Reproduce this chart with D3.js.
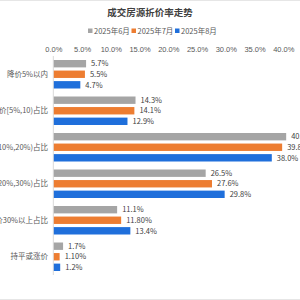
<!DOCTYPE html>
<html><head><meta charset="utf-8">
<script src="https://cdn.jsdelivr.net/npm/d3@7"></script>
<style>body{margin:0;background:#fff;}svg{display:block;font-family:"Noto Sans CJK SC","Noto Sans",sans-serif;}</style>
</head><body>
<svg id="c" width="300" height="300"></svg>
<script>
const categories = ["降价5%以内","降价[5%,10)占比","降价[10%,20%)占比","降价[20%,30%)占比","降价30%以上占比","持平或涨价"];
const seriesNames = ["2025年6月","2025年7月","2025年8月"];
const jun = [5.7,14.3,40.5,26.5,11.1,1.7];
const jul = [5.5,14.1,39.8,27.6,11.8,1.1];
const aug = [4.7,12.9,38.0,29.8,13.4,1.2];
const junLabels = ["5.7%","14.3%","40.5%","26.5%","11.1%","1.7%"];
const julLabels = ["5.5%","14.1%","39.8%","27.6%","11.80%","1.10%"];
const augLabels = ["4.7%","12.9%","38.0%","29.8%","13.4%","1.2%"];
const tickValues = [0,5,10,15,20,25,30,35,40];
const colors = ["#A5A5A5","#ED7D31","#1F6FDB"];

const svg = d3.select("#c");
svg.append("rect").attr("x",0).attr("y",0).attr("width",300).attr("height",300).attr("fill","#fff");
svg.append("line").attr("x1",0).attr("x2",300).attr("y1",0.5).attr("y2",0.5).attr("stroke","#e6e6e6");
svg.append("line").attr("x1",0).attr("x2",300).attr("y1",299.5).attr("y2",299.5).attr("stroke","#e6e6e6");

const x = d3.scaleLinear().domain([0,40]).range([53.3,283.3]);
const y = d3.scaleBand().domain(categories).range([56,275]).paddingInner(0).paddingOuter(0);
const sub = d3.scaleBand().domain([0,1,2]).range([0,28.5]).paddingInner(0.3).paddingOuter(0);

svg.append("text").attr("x",150).attr("y",16).attr("text-anchor","middle")
  .attr("font-size",9.5).attr("font-weight","bold").attr("fill","#404040").text("成交房源折价率走势");

// legend
const legend = svg.append("g");
const legX = [88,131.5,175];
seriesNames.forEach((n,i)=>{
  legend.append("rect").attr("x",legX[i]).attr("y",28.5).attr("width",4.5).attr("height",4.5).attr("fill",colors[i]);
  legend.append("text").attr("x",legX[i]+6).attr("y",33.5).attr("font-size",7.5).attr("fill","#595959").text(n);
});

// top axis tick labels
const ax = d3.axisTop(x).tickValues(tickValues).tickFormat(d=>d.toFixed(1)+"%").tickSize(0).tickPadding(0);
const axg = svg.append("g").attr("transform","translate(0,52)").call(ax);
axg.select(".domain").remove();
axg.selectAll("text").attr("font-size",7.5).attr("fill","#595959").attr("font-family","inherit");

// vertical axis line
svg.append("line").attr("x1",x(0)).attr("x2",x(0)).attr("y1",56).attr("y2",275).attr("stroke","#d9d9d9");

const series = [jun,jul,aug];
const labels = [junLabels,julLabels,augLabels];
const bandPad = (y.bandwidth()-28.5)/2;
series.forEach((vals,si)=>{
  const g = svg.append("g");
  g.selectAll("rect").data(vals).join("rect")
    .attr("x",x(0)+0.5)
    .attr("y",(d,i)=>y(categories[i])+bandPad+sub(si))
    .attr("width",d=>x(d)-x(0)-0.5)
    .attr("height",sub.bandwidth())
    .attr("fill",colors[si]);
  g.selectAll("text").data(vals).join("text")
    .attr("x",d=>x(d)+5)
    .attr("y",(d,i)=>y(categories[i])+bandPad+sub(si)+sub.bandwidth()/2+2.7)
    .attr("font-size",7.5).attr("fill","#404040")
    .text((d,i)=>labels[si][i]);
});

// category labels
svg.append("g").selectAll("text").data(categories).join("text")
  .attr("x",48).attr("y",d=>y(d)+y.bandwidth()/2+2.7)
  .attr("text-anchor","end").attr("font-size",7.5).attr("fill","#595959")
  .text(d=>d);
</script>
</body></html>
